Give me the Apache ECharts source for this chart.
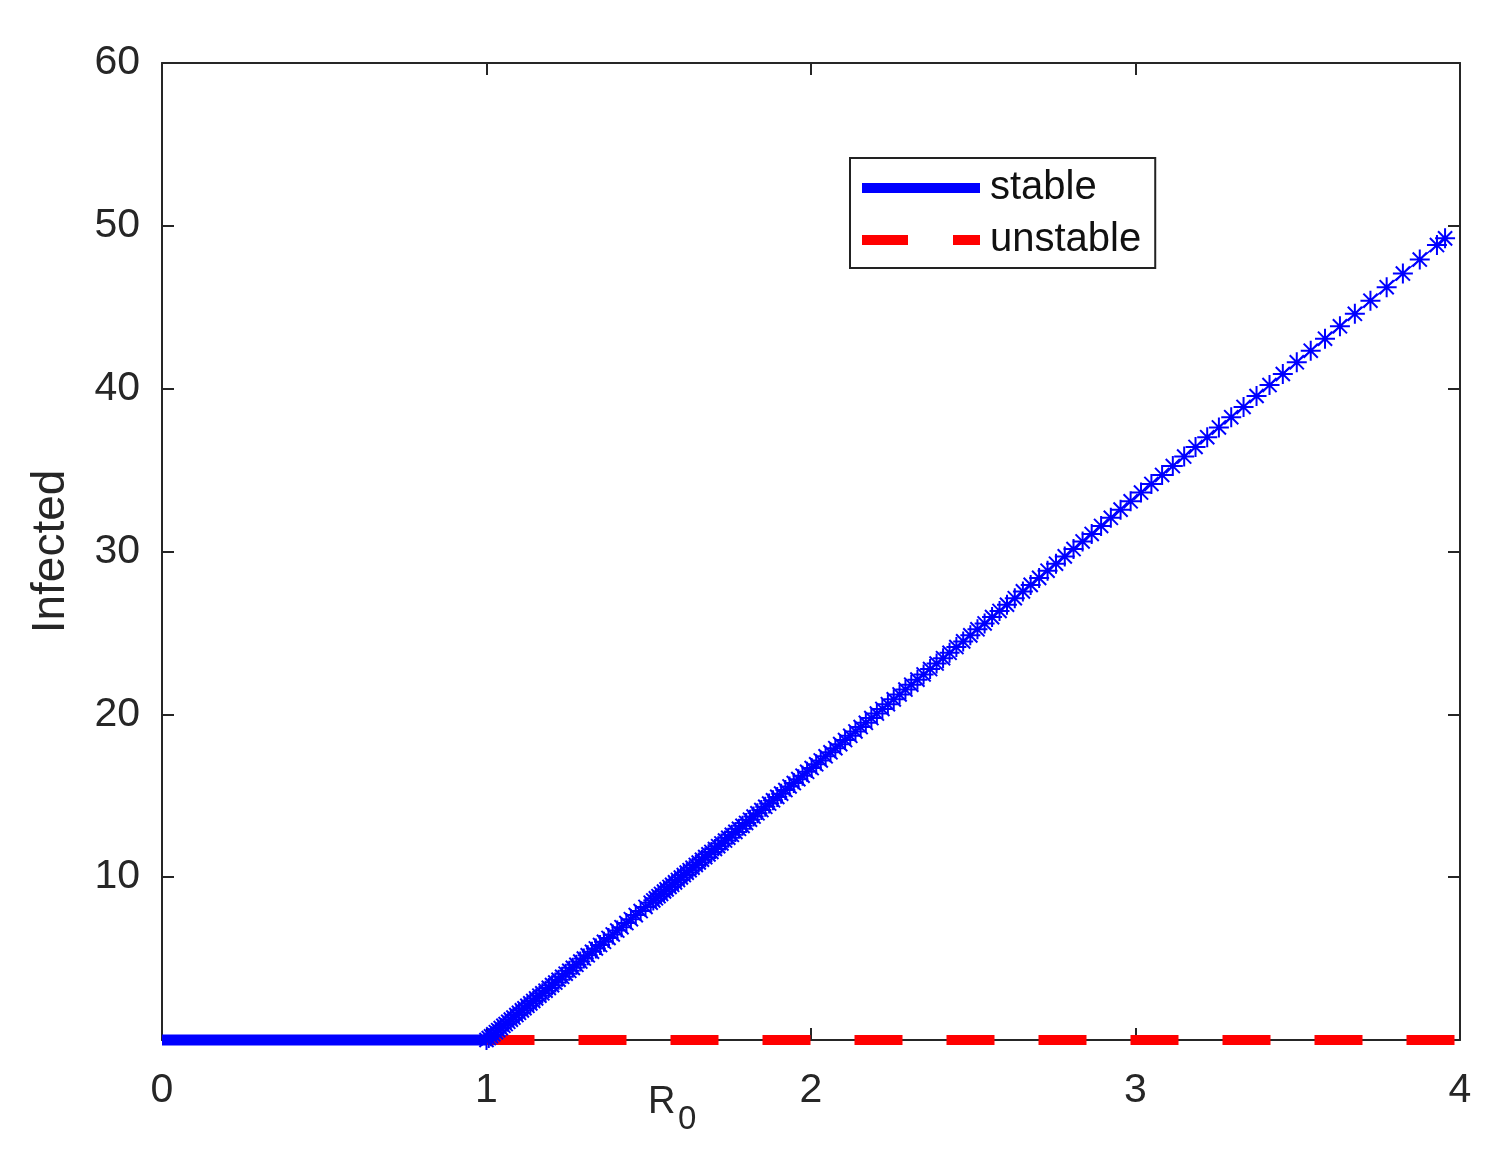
<!DOCTYPE html>
<html>
<head>
<meta charset="utf-8">
<script src="https://cdn.jsdelivr.net/npm/echarts@6/dist/echarts.min.js"></script>
<style>
html,body{margin:0;padding:0;background:#fff;}
#chart{width:1511px;height:1157px;}
</style>
</head>
<body>
<div id="chart"></div>
<script>
// ---- data ----
var xTicks = [0, 1, 2, 3, 4];
var yTicks = [10, 20, 30, 40, 50, 60];

// stable disease-free branch (R0 < 1)
var stableFreeR0 = [0, 1];
var stableFreeI = [0, 0];

// unstable disease-free branch (R0 > 1)
var unstableR0 = [1, 4];
var unstableI = [0, 0];

// stable endemic branch (asterisk markers)
var endemicR0 = [1.000,1.007,1.014,1.021,1.029,1.036,1.044,1.052,1.059,1.067,1.075,1.083,1.092,1.100,1.109,1.117,1.126,1.135,1.144,1.153,
1.163,1.172,1.182,1.192,1.202,1.212,1.222,1.233,1.244,1.255,1.266,1.277,1.289,1.300,1.312,1.325,1.337,1.350,1.362,1.376,
1.389,1.403,1.416,1.431,1.445,1.460,1.475,1.490,1.506,1.514,1.522,1.530,1.538,1.547,1.555,1.564,1.572,1.581,1.590,1.599,
1.608,1.617,1.626,1.635,1.645,1.654,1.664,1.674,1.684,1.693,1.704,1.714,1.724,1.735,1.745,1.756,1.767,1.778,1.789,1.800,
1.812,1.823,1.835,1.847,1.859,1.871,1.883,1.896,1.908,1.921,1.934,1.947,1.961,1.974,1.988,2.002,2.016,2.030,2.045,2.060,
2.075,2.090,2.105,2.121,2.137,2.153,2.169,2.186,2.203,2.220,2.237,2.255,2.273,2.291,2.309,2.328,2.347,2.367,2.387,2.407,
2.427,2.448,2.469,2.491,2.513,2.535,2.558,2.581,2.604,2.628,2.653,2.677,2.703,2.729,2.755,2.782,2.809,2.837,2.865,2.894,
2.924,2.954,2.985,3.017,3.049,3.082,3.115,3.150,3.185,3.221,3.257,3.295,3.333,3.373,3.413,3.454,3.497,3.540,3.584,3.630,
3.676,3.724,3.774,3.824,3.876,3.929,3.954];
var endemicI = [0,0.12,0.23,0.35,0.48,0.60,0.73,0.87,0.98,1.12,1.25,1.38,1.53,1.67,1.82,1.95,2.10,2.25,2.40,2.55,
2.72,2.87,3.03,3.20,3.37,3.53,3.70,3.88,4.07,4.25,4.43,4.62,4.82,5.00,5.20,5.42,5.62,5.83,6.03,6.27,
6.48,6.72,6.93,7.18,7.42,7.67,7.92,8.17,8.43,8.57,8.70,8.83,8.97,9.12,9.25,9.40,9.53,9.68,9.83,9.98,
10.13,10.28,10.43,10.58,10.75,10.90,11.07,11.23,11.40,11.55,11.73,11.90,12.07,12.25,12.42,12.60,12.78,12.97,13.15,13.33,
13.53,13.72,13.92,14.12,14.32,14.52,14.72,14.93,15.13,15.35,15.57,15.78,16.02,16.23,16.47,16.70,16.93,17.17,17.42,17.67,
17.92,18.17,18.42,18.68,18.95,19.22,19.48,19.77,20.05,20.33,20.62,20.92,21.22,21.52,21.82,22.13,22.45,22.78,23.12,23.45,
23.78,24.13,24.48,24.85,25.22,25.58,25.97,26.35,26.73,27.13,27.55,27.95,28.38,28.82,29.25,29.70,30.15,30.62,31.08,31.57,
32.07,32.57,33.08,33.62,34.15,34.70,35.25,35.83,36.42,37.02,37.62,38.25,38.88,39.55,40.22,40.90,41.62,42.33,43.07,43.83,
44.60,45.40,46.23,47.07,47.93,48.82,49.23];

var legendNames = ['stable', 'unstable'];

function pairs(xs, ys) { return xs.map(function (x, i) { return [x, ys[i]]; }); }

var AX = '#262626';
var FONT = 'Liberation Sans, Arial, sans-serif';
var chart = echarts.init(document.getElementById('chart'), null, {renderer: 'canvas'});
var star = 'path://M0,-10L0,10M-10,0L10,0M-7.07,-7.07L7.07,7.07M-7.07,7.07L7.07,-7.07';

var axisCommon = {
  type: 'value',
  splitLine: {show: false},
  axisLine: {show: true, onZero: false, lineStyle: {color: AX, width: 2}},
  axisTick: {show: true, inside: true, length: 12, lineStyle: {color: AX, width: 2}}
};

chart.setOption({
  animation: false,
  backgroundColor: '#fff',
  grid: {left: 162, right: 51, top: 63, bottom: 117, containLabel: false},
  xAxis: [
    Object.assign({}, axisCommon, {
      position: 'bottom', min: xTicks[0], max: xTicks[xTicks.length - 1], interval: 1,
      axisLabel: {show: true, margin: 30, color: AX, fontSize: 41, fontFamily: FONT}
    }),
    Object.assign({}, axisCommon, {
      position: 'top', min: xTicks[0], max: xTicks[xTicks.length - 1], interval: 1,
      axisLabel: {show: false}
    })
  ],
  yAxis: [
    Object.assign({}, axisCommon, {
      position: 'left', min: 0, max: yTicks[yTicks.length - 1], interval: 10,
      name: 'Infected', nameLocation: 'middle', nameGap: 88,
      nameTextStyle: {color: AX, fontSize: 46, fontFamily: FONT},
      axisLabel: {show: true, margin: 22, color: AX, fontSize: 41, fontFamily: FONT,
        formatter: function (v) { return yTicks.indexOf(v) >= 0 ? String(v) : ''; }}
    }),
    Object.assign({}, axisCommon, {
      position: 'right', min: 0, max: yTicks[yTicks.length - 1], interval: 10,
      axisLabel: {show: false}
    })
  ],
  legend: {
    data: [
      {name: legendNames[0], icon: 'rect'},
      {name: legendNames[1], icon: 'path://M0,0H46V10H0ZM91,0H118V10H91Z'}
    ],
    orient: 'vertical',
    left: 850, top: 158,
    padding: [5, 14, 3, 12],
    itemGap: 2,
    itemWidth: 118, itemHeight: 10,
    borderColor: '#222', borderWidth: 2, backgroundColor: '#fff',
    textStyle: {color: '#111', fontSize: 40, lineHeight: 44, padding: [6, 0, 0, 5], fontFamily: FONT},
    selectedMode: false
  },
  graphic: [
    {type: 'text', left: 648, top: 1084, style: {text: 'R', fontSize: 38, fill: AX, fontFamily: FONT}},
    {type: 'text', left: 678, top: 1103, style: {text: '0', fontSize: 33, fill: AX, fontFamily: FONT}}
  ],
  series: [
    {
      name: 'stable', type: 'line', data: pairs(stableFreeR0, stableFreeI),
      symbol: 'none', clip: false, z: 3,
      lineStyle: {color: '#0000ff', width: 11, cap: 'butt'}, itemStyle: {color: '#0000ff'}
    },
    {
      name: 'unstable', type: 'line', data: pairs(unstableR0, unstableI),
      symbol: 'none', clip: false, z: 3,
      lineStyle: {color: '#ff0000', width: 10, type: [48, 44], cap: 'butt'}, itemStyle: {color: '#ff0000'}
    },
    {
      name: 'stable endemic', type: 'line', data: pairs(endemicR0, endemicI),
      symbol: star, symbolSize: 20, showSymbol: true, showAllSymbol: true, clip: false, z: 4,
      lineStyle: {color: '#0000ff', width: 1.5},
      itemStyle: {color: 'none', borderColor: '#0000ff', borderWidth: 2}
    }
  ]
});
</script>
</body>
</html>
